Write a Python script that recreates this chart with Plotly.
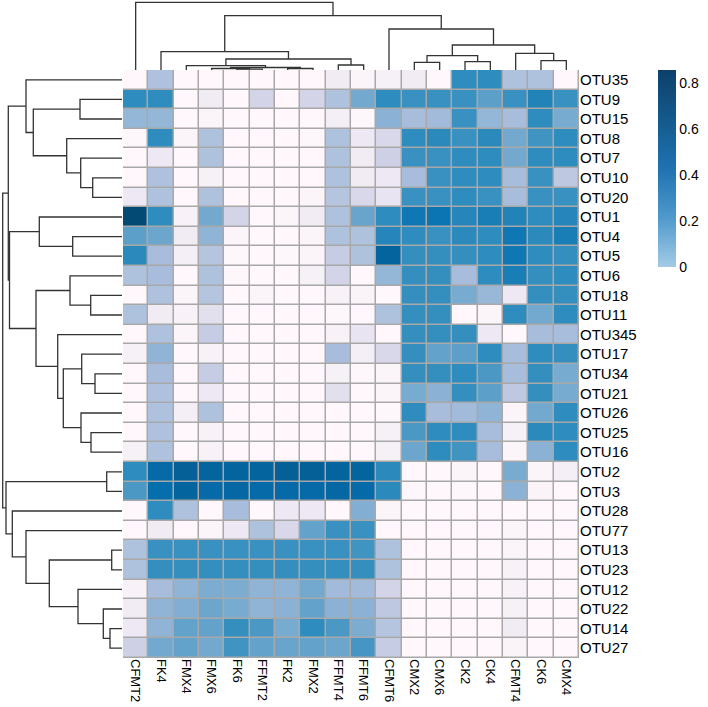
import plotly.graph_objects as go

# column / row order as in the clustered heatmap
cols = ["CFMT2", "FK4", "FMX4", "FMX6", "FK6", "FFMT2", "FK2", "FMX2", "FFMT4",
        "FFMT6", "CFMT6", "CMX2", "CMX6", "CK2", "CK4", "CFMT4", "CK6", "CMX4"]
rows = ["OTU35", "OTU9", "OTU15", "OTU8", "OTU7", "OTU10", "OTU20", "OTU1", "OTU4",
        "OTU5", "OTU6", "OTU18", "OTU11", "OTU345", "OTU17", "OTU34", "OTU21",
        "OTU26", "OTU25", "OTU16", "OTU2", "OTU3", "OTU28", "OTU77", "OTU13",
        "OTU23", "OTU12", "OTU22", "OTU14", "OTU27"]

# relative abundance, one list per OTU (same order as rows)
values = [
    [0, .30, 0, 0, 0, 0, 0, 0, .08, .02, .05, .08, 0, .55, .55, .30, .30, 0],
    [.55, .55, 0, .08, 0, .20, 0, .20, .30, .43, .55, .53, .53, .53, .47, .53, .58, .53],
    [.36, .36, 0, .02, 0, 0, 0, 0, .06, .01, .38, .32, .33, .53, .36, .32, .55, .42],
    [.01, .55, .02, .30, 0, 0, 0, .01, .30, .10, .18, .55, .56, .53, .56, .43, .52, .55],
    [0, .10, 0, .30, 0, 0, 0, 0, .30, .08, .22, .53, .53, .55, .55, .43, .55, .55],
    [0, .30, 0, .05, 0, 0, 0, 0, .30, .08, .10, .32, .53, .55, .55, .32, .53, .26],
    [.10, .30, 0, .30, 0, 0, 0, .02, .28, .18, .12, .53, .53, .55, .53, .32, .53, .53],
    [.80, .55, .04, .43, .20, 0, .02, .08, .30, .45, .55, .62, .63, .57, .60, .58, .55, .57],
    [.47, .44, .08, .37, .02, 0, 0, .02, .30, .30, .57, .55, .53, .56, .55, .62, .56, .60],
    [.56, .32, .06, .28, .01, 0, .01, .02, .24, .30, .70, .54, .54, .54, .55, .62, .55, .54],
    [.30, .32, 0, .30, .01, 0, 0, .05, .20, 0, .36, .54, .54, .32, .55, .60, .54, .55],
    [0, .30, .02, .28, 0, .02, 0, 0, .04, .03, 0, .54, .54, .42, .35, .10, .54, .54],
    [.30, .08, .04, .14, 0, 0, 0, 0, .01, 0, .30, .54, .54, 0, .02, .55, .43, .55],
    [0, .30, .02, .24, 0, 0, 0, 0, .04, .12, 0, .54, .54, .54, .10, 0, .32, .32],
    [.05, .37, 0, .04, 0, 0, 0, 0, .32, .06, .18, .54, .46, .47, .55, .32, .55, .54],
    [0, .32, 0, .24, 0, 0, 0, 0, .05, .01, .02, .54, .54, .55, .50, .32, .54, .42],
    [0, .30, 0, .10, 0, 0, 0, 0, .14, 0, .02, .42, .38, .54, .47, .26, .54, .42],
    [0, .30, .06, .30, 0, 0, 0, 0, 0, 0, .01, .55, .32, .33, .37, .02, .43, .55],
    [0, .30, 0, .04, 0, 0, 0, 0, 0, 0, .05, .50, .55, .55, .32, .05, .56, .55],
    [.05, .30, 0, .04, 0, 0, 0, 0, 0, 0, .05, .44, .55, .52, .32, .02, .38, .55],
    [.55, .67, .72, .70, .70, .70, .72, .72, .70, .70, .56, 0, 0, .02, 0, .42, .02, .06],
    [.50, .65, .70, .67, .68, .67, .67, .67, .68, .67, .56, .01, 0, .01, 0, .38, .03, 0],
    [0, .55, .30, 0, .32, 0, .10, .10, 0, .40, .02, 0, 0, 0, 0, 0, 0, 0],
    [0, .08, 0, .02, .10, .30, .18, .46, .53, .53, 0, 0, 0, 0, 0, .02, 0, 0],
    [.30, .53, .53, .53, .53, .53, .53, .53, .53, .52, .30, 0, 0, 0, 0, .02, 0, 0],
    [.30, .54, .54, .54, .54, .54, .54, .54, .54, .54, .30, 0, 0, 0, 0, .04, 0, 0],
    [.04, .32, .37, .41, .41, .37, .37, .43, .33, .33, .20, 0, 0, 0, 0, .04, 0, 0],
    [.08, .37, .40, .44, .42, .37, .38, .46, .38, .38, .26, 0, 0, 0, 0, .05, 0, 0],
    [.10, .37, .46, .46, .54, .50, .42, .55, .50, .41, .28, 0, 0, 0, 0, .08, 0, 0],
    [.22, .43, .46, .43, .52, .46, .45, .46, .44, .51, .24, 0, 0, 0, 0, .03, 0, 0],
]

# dendrogram merges: (left, right, height, new node)
col_merges = [
    ("FK6", "FFMT2", 0.8, "c1"), ("FMX6", "c1", 1.5, "c2"), ("FK2", "FMX2", 1.5, "c3"),
    ("c2", "c3", 2.5, "c4"), ("FMX4", "c4", 4.3, "c5"), ("FFMT4", "FFMT6", 5, "c6"),
    ("c5", "c6", 11, "c7"), ("FK4", "c7", 18.3, "c8"), ("CMX2", "CMX6", 7.7, "c9"),
    ("CK2", "CK4", 8.3, "c10"), ("c9", "c10", 14.3, "c11"), ("CK6", "CMX4", 9.3, "c12"),
    ("CFMT4", "c12", 16.7, "c13"), ("c11", "c13", 25, "c14"), ("CFMT6", "c14", 41, "c15"),
    ("c8", "c15", 54.3, "c16"), ("CFMT2", "c16", 67.7, "c17"),
]
row_merges = [
    ("OTU9", "OTU15", 42, "r1"), ("OTU10", "OTU20", 29.3, "r2"), ("OTU7", "r2", 41.3, "r3"),
    ("OTU8", "r3", 55.3, "r4"), ("r1", "r4", 88.7, "r5"), ("OTU35", "r5", 96, "r6"),
    ("OTU4", "OTU5", 49.3, "r7"), ("OTU1", "r7", 82.7, "r8"), ("OTU18", "OTU11", 31.3, "r9"),
    ("OTU6", "r9", 52, "r10"), ("OTU34", "OTU21", 27, "r11"), ("OTU17", "r11", 40.3, "r12"),
    ("OTU25", "OTU16", 31, "r13"), ("OTU26", "r13", 41, "r14"), ("r12", "r14", 58.7, "r15"),
    ("OTU345", "r15", 64.3, "r16"), ("r10", "r16", 86, "r17"), ("r8", "r17", 112.5, "r18"),
    ("r6", "r18", 113.7, "r19"), ("OTU2", "OTU3", 15.3, "r20"), ("OTU13", "OTU23", 10.3, "r21"),
    ("OTU14", "OTU27", 12, "r22"), ("OTU22", "r22", 18.7, "r23"), ("OTU12", "r23", 44, "r24"),
    ("r21", "r24", 72.7, "r25"), ("OTU77", "r25", 96, "r26"), ("OTU28", "r26", 109.7, "r27"),
    ("r20", "r27", 116, "r28"), ("r19", "r28", 119.3, "r29"),
]

cbar_ticks = [0, 0.2, 0.4, 0.6, 0.8]


def dendro_lines(leaves, merges):
    pos = {name: i for i, name in enumerate(leaves)}
    hgt = {name: 0 for name in leaves}
    p, h = [], []
    for a, b, height, name in merges:
        p += [pos[a], pos[a], pos[b], pos[b], None]
        h += [hgt[a], height, height, hgt[b], None]
        pos[name] = (pos[a] + pos[b]) / 2
        hgt[name] = height
    return p, h


W, H = 708, 707
gx0, gx1, gy0, gy1 = 123, 579, 70, 658
font = dict(family="Liberation Sans, Arial, sans-serif", size=15, color="black")
xfont = dict(family="Liberation Sans, Arial, sans-serif", size=13, color="black")
line = dict(color="#333333", width=1.3)

fig = go.Figure()
fig.add_trace(go.Heatmap(z=values, x=cols, y=rows, colorscale="PuBu", zmin=0, zmax=0.857,
                         xgap=1.5, ygap=1.5, showscale=False))

cp, ch = dendro_lines(cols, col_merges)
fig.add_trace(go.Scatter(x=cp, y=ch, mode="lines", line=line, xaxis="x2", yaxis="y2",
                         hoverinfo="skip", showlegend=False))
rp, rh = dendro_lines(rows, row_merges)
fig.add_trace(go.Scatter(x=rh, y=rp, mode="lines", line=line, xaxis="x3", yaxis="y3",
                         hoverinfo="skip", showlegend=False))

# legend colour bar
fig.add_trace(go.Scatter(
    x=[None], y=[None], mode="markers", showlegend=False, hoverinfo="skip",
    marker=dict(color=[0], cmin=0, cmax=0.857, showscale=True,
                colorscale=[[0, "#a3cbe6"], [0.25, "#4f99cc"], [0.5, "#1f72b0"],
                            [0.75, "#135a8d"], [1, "#0d406b"]],
                colorbar=dict(x=658 / W, xanchor="left", y=1 - gy0 / H, yanchor="top",
                              len=(267 - gy0) / H, lenmode="fraction", thickness=18,
                              outlinewidth=0, tickvals=cbar_ticks,
                              ticktext=[str(t) if t else "0" for t in cbar_ticks],
                              tickfont=dict(font, size=14), ticks="", xpad=0, ypad=0)),
))

# grey cell borders
fig.add_shape(type="rect", xref="x", yref="y", x0=-0.5, x1=len(cols) - 0.5,
              y0=-0.5, y1=len(rows) - 0.5, fillcolor="#a8a8a8",
              line=dict(color="#a8a8a8", width=1), layer="below")

xdom = [gx0 / W, gx1 / W]
ydom = [1 - gy1 / H, 1 - gy0 / H]
fig.update_layout(
    width=W, height=H, margin=dict(l=0, r=0, t=0, b=0),
    paper_bgcolor="white", plot_bgcolor="white", font=font,
    xaxis=dict(domain=xdom, range=[-0.5, len(cols) - 0.5], tickangle=90, tickfont=xfont,
               showgrid=False, zeroline=False, ticks="", automargin=False),
    yaxis=dict(domain=ydom, range=[len(rows) - 0.5, -0.5], side="right", tickfont=font,
               showgrid=False, zeroline=False, ticks="", automargin=False),
    xaxis2=dict(domain=xdom, range=[-0.5, len(cols) - 0.5], visible=False, anchor="y2"),
    yaxis2=dict(domain=[1 - gy0 / H, 1], range=[0, gy0], visible=False, anchor="x2"),
    xaxis3=dict(domain=[0, (gx0 - 1) / W], range=[gx0 - 1, 0], visible=False, anchor="y3"),
    yaxis3=dict(domain=ydom, range=[len(rows) - 0.5, -0.5], visible=False, anchor="x3"),
)

# page body has a default margin; drop it so the figure sits at the window corner
fig.write_html("out.html", config={"displayModeBar": False},
               post_script="document.body.style.margin = '0';")
